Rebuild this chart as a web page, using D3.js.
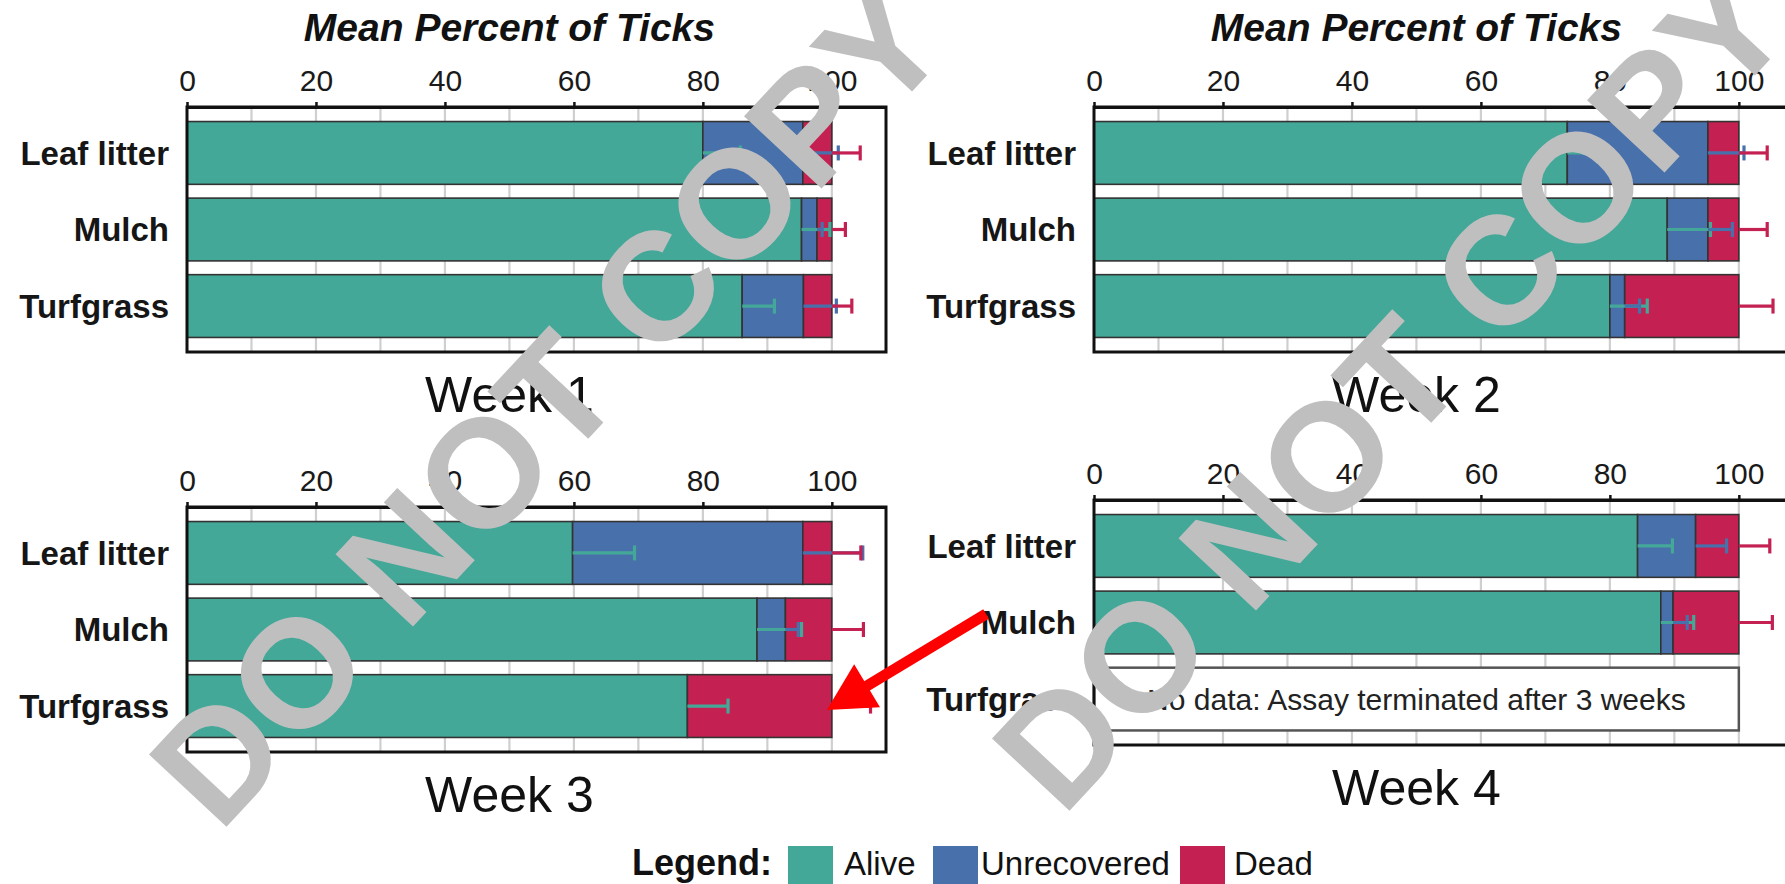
<!doctype html>
<html>
<head>
<meta charset="utf-8">
<title>Mean Percent of Ticks</title>
<script src="https://cdnjs.cloudflare.com/ajax/libs/d3/7.8.5/d3.min.js"></script>
<style>
  body { margin: 0; background: #fff; }
  svg { display: block; font-family: "Liberation Sans", Arial, sans-serif; }
</style>
</head>
<body>
<div id="chart"></div>
<script>
const weeks = ['Week 1', 'Week 2', 'Week 3', 'Week 4'];
const habitats = ['Leaf litter', 'Mulch', 'Turfgrass'];
const statuses = ['Alive', 'Unrecovered', 'Dead'];
const colors = ['#43a898', '#4870aa', '#c42152'];
const xTicks = [0, 20, 40, 60, 80, 100];
const gridTicks = [10, 20, 30, 40, 50, 60, 70, 80, 90, 100];

// mean percent of ticks, one row per week, one value per habitat (null = no data)
const alive = [[80.0, 95.3, 86.1], [73.4, 88.9, 80.0], [59.8, 88.4, 77.6], [84.3, 87.9, null]];
const unrecovered = [[15.5, 2.4, 9.5], [21.8, 6.3, 2.3], [35.7, 4.4, 0], [9.0, 1.9, null]];
const dead = [[4.5, 2.3, 4.4], [4.8, 4.8, 17.7], [4.5, 7.2, 22.4], [6.7, 10.2, null]];
// error bars (SE)
const aliveSE = [[5.8, 4.4, 5.0], [5.4, 6.7, 5.8], [9.6, 6.9, 6.3], [5.4, 5.1, null]];
const unrecSE = [[5.5, 0.8, 5.1], [5.6, 3.8, 2.3], [9.3, 2.0, 0], [4.8, 2.2, null]];
const deadSE = [[4.4, 2.1, 3.1], [4.4, 4.4, 5.3], [4.5, 4.9, 6.0], [4.8, 5.2, null]];
const noDataNote = 'No data: Assay terminated after 3 weeks';

const W = 1785, H = 884;
const plotW = 699, plotH = 245, xMax = 108.4;
const panels = [
  {left: 187, top: 107, title: true},
  {left: 1094, top: 107, title: true},
  {left: 187, top: 507, title: false},
  {left: 1094, top: 500, title: false}
];
const seTables = [aliveSE, unrecSE, deadSE];

const svg = d3.select('#chart').append('svg')
  .attr('width', W)
  .attr('height', H);

const x = d3.scaleLinear().domain([0, xMax]).range([0, plotW]);
const y = d3.scaleBand().domain(habitats).range([0, plotH])
  .paddingInner(0.18).paddingOuter(0.19);
const bw = y.bandwidth();

weeks.forEach((wk, i) => {
  const p = panels[i];
  const g = svg.append('g').attr('transform', `translate(${p.left},${p.top})`);

  // grid lines
  g.selectAll('.grid').data(gridTicks).join('line')
    .attr('x1', d => x(d)).attr('x2', d => x(d))
    .attr('y1', 0).attr('y2', plotH)
    .attr('stroke', '#cfcfcf').attr('stroke-width', 2.2);

  const rows = habitats.map((h, j) => ({
    habitat: h, j: j,
    Alive: alive[i][j], Unrecovered: unrecovered[i][j], Dead: dead[i][j]
  })).filter(r => r.Alive != null);

  const stacked = d3.stack().keys(statuses)(rows);

  stacked.forEach((s, k) => {
    g.selectAll('.bar' + k).data(s.filter(d => d[1] - d[0] > 0)).join('rect')
      .attr('x', d => x(d[0]))
      .attr('y', d => y(d.data.habitat))
      .attr('width', d => x(d[1]) - x(d[0]))
      .attr('height', bw)
      .attr('fill', colors[k])
      .attr('stroke', '#333')
      .attr('stroke-width', 1.6);
  });

  // error bars
  stacked.forEach((s, k) => {
    const eb = g.selectAll('.err' + k).data(s.filter(d => seTables[k][i][d.data.j] > 0)).join('g')
      .attr('stroke', colors[k]).attr('stroke-width', 3.2);
    eb.append('line')
      .attr('x1', d => x(d[1]))
      .attr('x2', d => x(d[1] + seTables[k][i][d.data.j]))
      .attr('y1', d => y(d.data.habitat) + bw / 2)
      .attr('y2', d => y(d.data.habitat) + bw / 2);
    eb.append('line')
      .attr('x1', d => x(d[1] + seTables[k][i][d.data.j]))
      .attr('x2', d => x(d[1] + seTables[k][i][d.data.j]))
      .attr('y1', d => y(d.data.habitat) + bw / 2 - 7.5)
      .attr('y2', d => y(d.data.habitat) + bw / 2 + 7.5);
  });

  // no data box
  habitats.forEach((h, j) => {
    if (alive[i][j] == null) {
      g.append('rect')
        .attr('x', x(0)).attr('y', y(h))
        .attr('width', x(100) - x(0)).attr('height', bw)
        .attr('fill', '#fff').attr('stroke', '#555').attr('stroke-width', 2.5);
      g.append('text')
        .attr('x', x(50)).attr('y', y(h) + bw / 2)
        .attr('dy', '0.36em')
        .attr('text-anchor', 'middle')
        .attr('font-size', 30)
        .attr('fill', '#222')
        .text(noDataNote);
    }
  });

  // frame
  g.append('rect')
    .attr('width', plotW).attr('height', plotH)
    .attr('fill', 'none').attr('stroke', '#111').attr('stroke-width', 3);

  // top axis
  const ax = g.append('g').call(d3.axisTop(x).tickValues(xTicks).tickSize(5).tickPadding(11).tickSizeOuter(0));
  ax.select('.domain').attr('stroke', '#111').attr('stroke-width', 3);
  ax.selectAll('.tick line').attr('stroke', '#111').attr('stroke-width', 2.5);
  ax.selectAll('.tick text')
    .attr('font-size', 30).attr('fill', '#1a1a1a')
    .attr('font-family', '"Liberation Sans", Arial, sans-serif');

  // category labels
  g.selectAll('.cat').data(habitats).join('text')
    .attr('x', -18)
    .attr('y', d => y(d) + bw / 2)
    .attr('dy', '0.36em')
    .attr('text-anchor', 'end')
    .attr('font-size', 33)
    .attr('font-weight', 'bold')
    .attr('fill', '#161616')
    .text(d => d);

  if (p.title) {
    g.append('text')
      .attr('x', x(50)).attr('y', 41 - p.top)
      .attr('text-anchor', 'middle')
      .attr('font-size', 39)
      .attr('font-weight', 'bold')
      .attr('font-style', 'italic')
      .attr('fill', '#111')
      .text('Mean Percent of Ticks');
  }

  g.append('text')
    .attr('x', x(50)).attr('y', 305)
    .attr('text-anchor', 'middle')
    .attr('font-size', 50)
    .attr('fill', '#111')
    .text(wk);
});

// legend
const leg = svg.append('g').attr('transform', 'translate(632,875)');
const swatchX = [156, 301, 548];
const labelX = [212, 349, 602];
leg.append('text').attr('x', 0).attr('font-size', 36).attr('font-weight', 'bold')
  .attr('fill', '#111').text('Legend:');
statuses.forEach((s, k) => {
  leg.append('rect').attr('x', swatchX[k]).attr('y', -29).attr('width', 45).attr('height', 38)
    .attr('fill', colors[k]);
  leg.append('text').attr('x', labelX[k]).attr('font-size', 33).attr('fill', '#111').text(s);
});

// watermark
[[587, 440], [1430, 424]].forEach(([cx, cy]) => {
  svg.append('text')
    .attr('transform', `translate(${cx},${cy}) rotate(-47)`)
    .attr('text-anchor', 'middle')
    .attr('font-size', 154)
    .attr('font-weight', 'bold')
    .attr('fill', '#bfbfbf')
    .text('DO NOT COPY');
});

// red arrow pointing at week 3 turfgrass
const tipX = panels[2].left + x(100) - 5;
const tipY = panels[2].top + y('Turfgrass') + bw / 2 + 4;
const ang = Math.atan2(-96, 159);
const ux = Math.cos(ang), uy = Math.sin(ang);
const headL = 47, headW = 25, shaft = 186;
svg.append('line')
  .attr('x1', tipX + ux * (headL - 4)).attr('y1', tipY + uy * (headL - 4))
  .attr('x2', tipX + ux * shaft).attr('y2', tipY + uy * shaft)
  .attr('stroke', '#ff0000').attr('stroke-width', 11);
svg.append('polygon')
  .attr('points', [
    [tipX, tipY],
    [tipX + ux * headL - uy * headW, tipY + uy * headL + ux * headW],
    [tipX + ux * headL + uy * headW, tipY + uy * headL - ux * headW]
  ].map(pt => pt.join(',')).join(' '))
  .attr('fill', '#ff0000');
</script>
</body>
</html>
